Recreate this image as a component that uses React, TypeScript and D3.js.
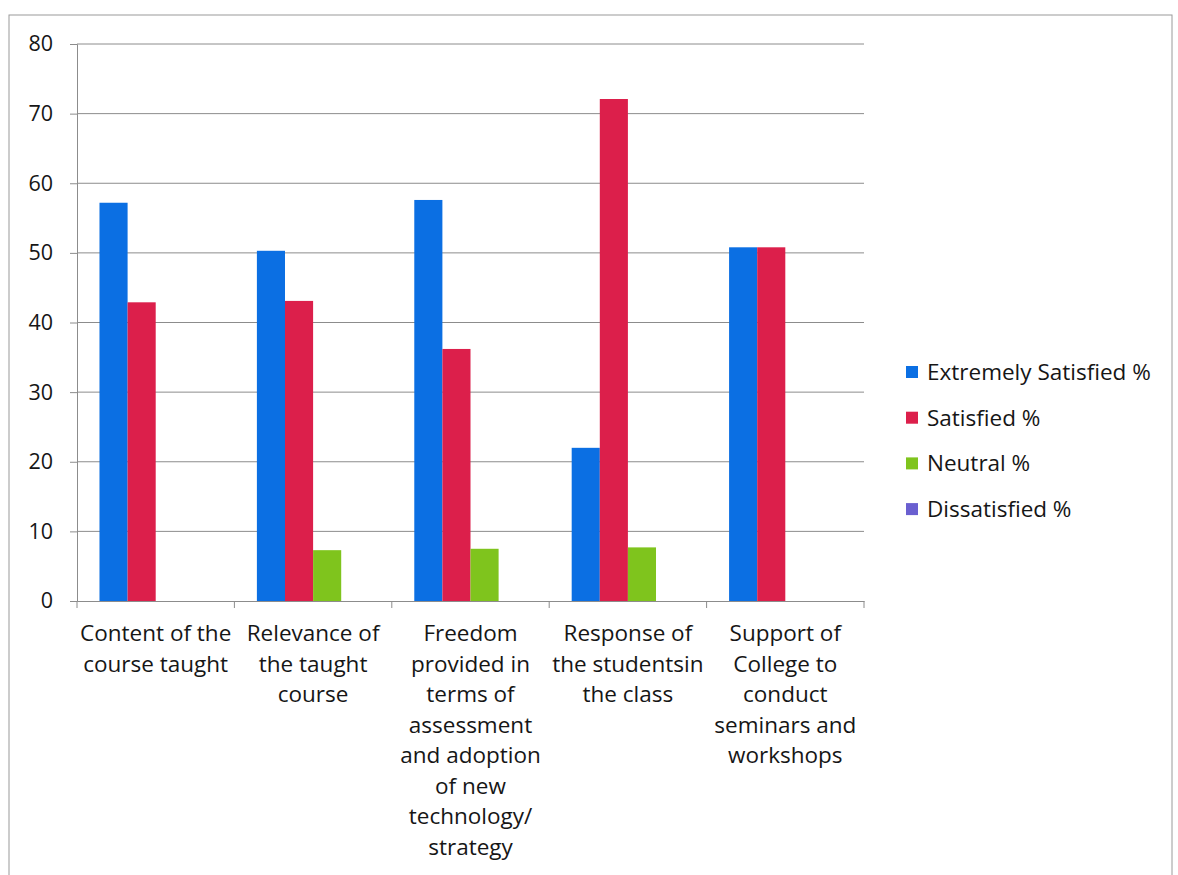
import { useEffect, useRef } from 'react';
import * as d3 from 'd3';

const categories = [
  'Content of the\ncourse taught',
  'Relevance of\nthe taught\ncourse',
  'Freedom\nprovided in\nterms of\nassessment\nand adoption\nof new\ntechnology/\nstrategy',
  'Response of\nthe studentsin\nthe class',
  'Support of\nCollege to\nconduct\nseminars and\nworkshops',
];
const seriesNames = ['Extremely Satisfied %', 'Satisfied %', 'Neutral %', 'Dissatisfied %'];
const extremelySatisfied = [57.2, 50.3, 57.6, 22.0, 50.8];
const satisfied = [42.9, 43.1, 36.2, 72.1, 50.8];
const neutral = [0, 7.3, 7.5, 7.7, 0];
const dissatisfied = [0, 0, 0, 0, 0];
const yTicks = [0, 10, 20, 30, 40, 50, 60, 70, 80];

const seriesColors = ['#0b6fe3', '#dc1f4b', '#7fc41d', '#6a5fd0'];
const fontFamily = '"Open Sans", Lato, sans-serif';

export default function App() {
  const ref = useRef<SVGSVGElement>(null);

  useEffect(() => {
    const svg = d3.select(ref.current);
    svg.selectAll('*').remove();

    const left = 77;
    const right = 864;
    const top = 44;
    const bottom = 601;

    const x = d3.scaleBand().domain(categories).range([left, right]).paddingInner(0).paddingOuter(0);
    const inner = d3
      .scaleBand()
      .domain(seriesNames)
      .range([0, x.bandwidth()])
      .paddingOuter(0.8)
      .paddingInner(0);
    const y = d3.scaleLinear().domain([0, 80]).range([bottom, top]);

    const allSeries = [extremelySatisfied, satisfied, neutral, dissatisfied];

    // outer chart border
    svg
      .append('rect')
      .attr('x', 9)
      .attr('y', 15)
      .attr('width', 1163)
      .attr('height', 880)
      .attr('fill', 'white')
      .attr('stroke', '#9a9a9a')
      .attr('stroke-width', 1);

    // gridlines
    svg
      .append('g')
      .selectAll('line')
      .data(yTicks.filter(t => t > 0))
      .enter()
      .append('line')
      .attr('x1', left)
      .attr('x2', right)
      .attr('y1', d => y(d))
      .attr('y2', d => y(d))
      .attr('stroke', '#8c8c8c')
      .attr('stroke-width', 1);

    // bars
    categories.forEach((c, ci) => {
      seriesNames.forEach((s, si) => {
        const v = allSeries[si][ci];
        if (v <= 0) return;
        svg
          .append('rect')
          .attr('x', (x(c) as number) + (inner(s) as number))
          .attr('y', y(v))
          .attr('width', inner.bandwidth())
          .attr('height', y(0) - y(v))
          .attr('fill', seriesColors[si]);
      });
    });

    // y axis
    const yAxis = d3.axisLeft(y).tickValues(yTicks).tickSize(7).tickPadding(17);
    const yg = svg.append('g').attr('transform', `translate(${left},0)`).call(yAxis);
    yg.selectAll('path, line').attr('stroke', '#8c8c8c');
    yg.selectAll('text')
      .attr('font-family', fontFamily)
      .attr('font-size', 21.5)
      .attr('fill', '#161616');

    // x axis
    const xAxis = d3
      .axisBottom(x)
      .tickValues([])
      .tickSizeOuter(0);
    const xg = svg.append('g').attr('transform', `translate(0,${bottom})`).call(xAxis);
    xg.select('path').attr('stroke', '#8c8c8c');
    const boundaries = [...categories.map(c => x(c) as number), right];
    xg.selectAll('line.tick-b')
      .data(boundaries)
      .enter()
      .append('line')
      .attr('x1', d => d)
      .attr('x2', d => d)
      .attr('y1', 0)
      .attr('y2', 7)
      .attr('stroke', '#8c8c8c');

    // category labels
    categories.forEach(c => {
      const t = svg
        .append('text')
        .attr('text-anchor', 'middle')
        .attr('font-family', fontFamily)
        .attr('font-size', 22.5)
        .attr('fill', '#161616');
      c.split('\n').forEach((line, i) => {
        t.append('tspan')
          .attr('x', (x(c) as number) + x.bandwidth() / 2)
          .attr('y', 641 + i * 30.5)
          .text(line);
      });
    });

    // legend
    const legend = svg.append('g').attr('transform', 'translate(906,372)');
    seriesNames.forEach((s, i) => {
      const row = legend.append('g').attr('transform', `translate(0,${i * 45.7})`);
      row
        .append('rect')
        .attr('x', 0)
        .attr('y', -6)
        .attr('width', 12)
        .attr('height', 12)
        .attr('fill', seriesColors[i]);
      row
        .append('text')
        .attr('x', 21)
        .attr('y', 8)
        .attr('font-family', fontFamily)
        .attr('font-size', 22.5)
        .attr('fill', '#161616')
        .text(s);
    });
  }, []);

  return (
    <svg
      ref={ref}
      width={1178}
      height={875}
      style={{ position: 'absolute', left: 0, top: 0, background: 'white' }}
    />
  );
}
